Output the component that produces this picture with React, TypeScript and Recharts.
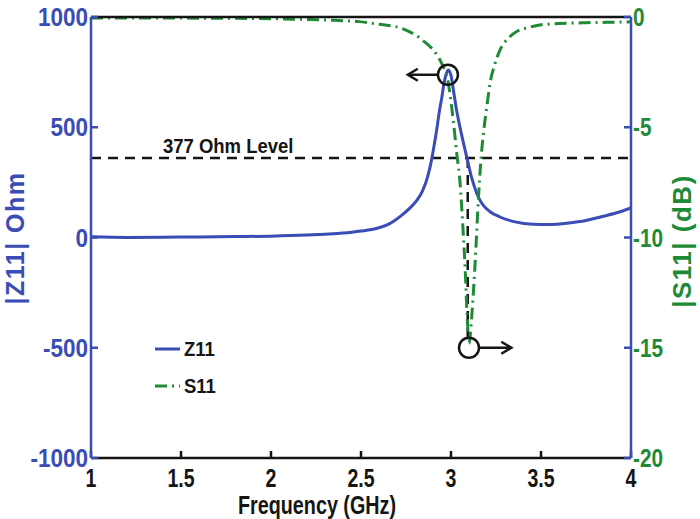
import React from 'react';
import { LineChart, Line, XAxis, YAxis, ReferenceLine, ReferenceDot, Legend } from 'recharts';

const BLUE = '#3a4cb5';
const GREEN = '#1f8a36';
const INK = '#151515';
const FONT = '"Liberation Sans", Arial, Helvetica, sans-serif';

// |Z11| (Ohm) against frequency (GHz)
const z11Freq = [1.0, 1.2, 1.5, 1.8, 2.0, 2.2, 2.3, 2.4, 2.45, 2.5, 2.55, 2.6, 2.66, 2.72, 2.77, 2.81, 2.84, 2.87, 2.894, 2.905, 2.92, 2.935, 2.95, 2.96, 2.975, 2.985, 3.0, 3.015, 3.031, 3.06, 3.089, 3.115, 3.143, 3.17, 3.217, 3.272, 3.35, 3.456, 3.55, 3.644, 3.75, 3.83, 3.92, 4.0];
const z11Ohm = [3, 0, 2, 4, 6, 11, 15, 20, 24, 29, 35, 44, 63, 97, 132, 168, 208, 275, 360, 412, 485, 570, 640, 695, 745, 760, 735, 660, 578, 462, 360, 270, 201, 156, 117, 93, 72, 60, 59, 65, 77, 93, 112, 134];

// |S11| (dB) against frequency (GHz)
const s11Freq = [1.0, 1.5, 2.0, 2.3, 2.49, 2.6, 2.72, 2.84, 2.92, 2.948, 2.985, 3.004, 3.035, 3.05, 3.068, 3.078, 3.09, 3.1, 3.115, 3.133, 3.152, 3.167, 3.18, 3.2, 3.217, 3.245, 3.272, 3.32, 3.365, 3.43, 3.494, 3.6, 3.75, 3.87, 4.0];
const s11dB = [-0.05, -0.05, -0.08, -0.14, -0.21, -0.33, -0.5, -1.04, -1.7, -2.1, -3.0, -4.1, -6.4, -7.5, -9.8, -11.3, -13.6, -14.8, -13.6, -11.3, -8.3, -6.4, -5.3, -4.0, -3.0, -2.1, -1.5, -0.95, -0.66, -0.48, -0.36, -0.3, -0.26, -0.24, -0.22];

const freqTicks = [1, 1.5, 2, 2.5, 3, 3.5, 4];
const ohmTicks = [-1000, -500, 0, 500, 1000];
const dbTicks = [-20, -15, -10, -5, 0];
const legendOrder = ['Z11', 'S11'];

// annotations
const levelOhm = 360;
const crossFreq = 3.093;
const crossBottomOhm = -452;
const peakFreq = 2.983;
const peakOhm = 738;
const dipFreq = 3.1;
const dipDb = -15;
const leftArrow = [{ x: 2.928, y: peakOhm }, { x: 2.76, y: peakOhm }];
const rightArrow = [{ x: 3.157, y: dipDb }, { x: 3.335, y: dipDb }];

const z11Data = z11Freq.map((f, i) => ({ f, z: z11Ohm[i] }));
const s11Data = s11Freq.map((f, i) => ({ f, s: s11dB[i] }));

const Arrow = (p: any) => {
  const { x1, y1, x2, y2 } = p;
  const d = x2 > x1 ? 1 : -1;
  return (
    <g>
      <line x1={x1} y1={y1} x2={x2} y2={y2} stroke={INK} strokeWidth={2.5} />
      <path d={`M${x2 - d * 10},${y2 - 6} L${x2},${y2} L${x2 - d * 10},${y2 + 6}`} fill="none" stroke={INK} strokeWidth={2.5} />
    </g>
  );
};

const NoTick = () => <g />;

const LeftTick = ({ x, y, payload }: any) => (
  <text transform={`translate(${x},${y}) scale(0.9,1)`} textAnchor="end" dy="0.36em"
    style={{ fontFamily: FONT, fontWeight: 'bold', fontSize: 25, fill: BLUE }}>{payload.value}</text>
);

const RightTick = ({ x, y, payload }: any) => (
  <text transform={`translate(${x},${y}) scale(0.83,1)`} textAnchor="start" dy="0.36em"
    style={{ fontFamily: FONT, fontWeight: 'bold', fontSize: 25, fill: GREEN }}>{payload.value}</text>
);

const BottomTick = ({ x, y, payload }: any) => (
  <text transform={`translate(${x},${y + 22}) scale(0.75,1)`} textAnchor="middle"
    style={{ fontFamily: FONT, fontWeight: 'bold', fontSize: 26, fill: INK }}>{payload.value}</text>
);

const LegendBox = ({ payload }: any) => {
  const items = [...(payload || [])].sort((a: any, b: any) => legendOrder.indexOf(a.value) - legendOrder.indexOf(b.value));
  return (
    <div style={{ fontFamily: FONT, fontWeight: 'bold', fontSize: 21, color: INK }}>
      {items.map((e: any) => (
        <div key={e.value} style={{ display: 'flex', alignItems: 'center', height: 37 }}>
          <svg width={27} height={10}>
            <line x1={0} y1={5} x2={25} y2={5} stroke={e.color} strokeWidth={3}
              strokeDasharray={e.payload?.strokeDasharray} />
          </svg>
          <span style={{ marginLeft: 2, display: 'inline-block', transform: 'scaleX(0.88)', transformOrigin: 'left' }}>{e.value}</span>
        </div>
      ))}
    </div>
  );
};

export default function App() {
  return (
    <div style={{ position: 'absolute', left: 0, top: 0, width: 700, height: 519, background: '#fff' }}>
      <LineChart width={700} height={519} margin={{ top: 0, right: 0, bottom: 0, left: 0 }}>
        <XAxis xAxisId="top" orientation="top" type="number" dataKey="f" domain={[1, 4]} ticks={freqTicks}
          height={17} tick={<NoTick />} tickSize={-7}
          axisLine={{ stroke: INK, strokeWidth: 2.5 }} tickLine={{ stroke: INK, strokeWidth: 2.5 }} />
        <XAxis type="number" dataKey="f" domain={[1, 4]} ticks={freqTicks} height={61}
          tickSize={-7} tickMargin={14} tick={<BottomTick />}
          axisLine={{ stroke: INK, strokeWidth: 2.5 }} tickLine={{ stroke: INK, strokeWidth: 2.5 }}
          label={{
            content: (p: any) => (
              <text transform={`translate(${p.viewBox.x + 226},${p.viewBox.y + 56}) scale(0.76,1)`} textAnchor="middle"
                style={{ fontFamily: FONT, fontWeight: 'bold', fontSize: 26, fill: INK }}>Frequency (GHz)</text>
            ),
          }} />
        <YAxis yAxisId="left" orientation="left" type="number" domain={[-1000, 1000]} ticks={ohmTicks} width={91}
          tickSize={-7} tickMargin={10} tick={<LeftTick />}
          axisLine={{ stroke: BLUE, strokeWidth: 2.5 }} tickLine={{ stroke: BLUE, strokeWidth: 2.5 }}
          label={{
            content: (p: any) => (
              <text transform={`translate(${p.viewBox.x + 15},${p.viewBox.y + 221}) rotate(-90)`} textAnchor="middle" dy="0.36em"
                style={{ fontFamily: FONT, fontWeight: 'bold', fontSize: 25, letterSpacing: 1.5, fill: BLUE }}>|Z11| Ohm</text>
            ),
          }} />
        <YAxis yAxisId="right" orientation="right" type="number" domain={[-20, 0]} ticks={dbTicks} width={69}
          tickSize={-7} tickMargin={9} tick={<RightTick />}
          axisLine={{ stroke: BLUE, strokeWidth: 2.5 }} tickLine={{ stroke: BLUE, strokeWidth: 2.5 }}
          label={{
            content: (p: any) => (
              <text transform={`translate(${p.viewBox.x + 51},${p.viewBox.y + 224}) rotate(-90)`} textAnchor="middle" dy="0.36em"
                style={{ fontFamily: FONT, fontWeight: 'bold', fontSize: 26, letterSpacing: 1.5, fill: GREEN }}>|S11| (dB)</text>
            ),
          }} />

        <ReferenceLine yAxisId="left" y={levelOhm} stroke={INK} strokeWidth={2.5} strokeDasharray="10 7"
          label={{
            content: (p: any) => (
              <text transform={`translate(${p.viewBox.x + 72},${p.viewBox.y - 5}) scale(0.88,1)`}
                style={{ fontFamily: FONT, fontWeight: 'bold', fontSize: 21, fill: INK }}>377 Ohm Level</text>
            ),
          }} />
        <ReferenceLine yAxisId="left" segment={[{ x: crossFreq, y: levelOhm }, { x: crossFreq, y: crossBottomOhm }]}
          stroke={INK} strokeWidth={2.5} strokeDasharray="10 7" />

        <Line data={z11Data} yAxisId="left" dataKey="z" name="Z11" type="monotone" stroke={BLUE} strokeWidth={3}
          dot={false} isAnimationActive={false} />
        <Line data={s11Data} yAxisId="right" dataKey="s" name="S11" type="monotone" stroke={GREEN} strokeWidth={3}
          strokeDasharray="12 5 2 5" dot={false} isAnimationActive={false} />

        <ReferenceDot yAxisId="left" x={peakFreq} y={peakOhm} r={10} fill="none" stroke={INK} strokeWidth={2.5} />
        <ReferenceDot yAxisId="right" x={dipFreq} y={dipDb} r={10} fill="none" stroke={INK} strokeWidth={2.5} />
        <ReferenceLine yAxisId="left" segment={leftArrow} shape={<Arrow />} />
        <ReferenceLine yAxisId="right" segment={rightArrow} shape={<Arrow />} />

        <Legend layout="vertical" align="center" verticalAlign="middle" content={<LegendBox />}
          wrapperStyle={{ left: 155, top: 330, width: 110 }} />
      </LineChart>
    </div>
  );
}
